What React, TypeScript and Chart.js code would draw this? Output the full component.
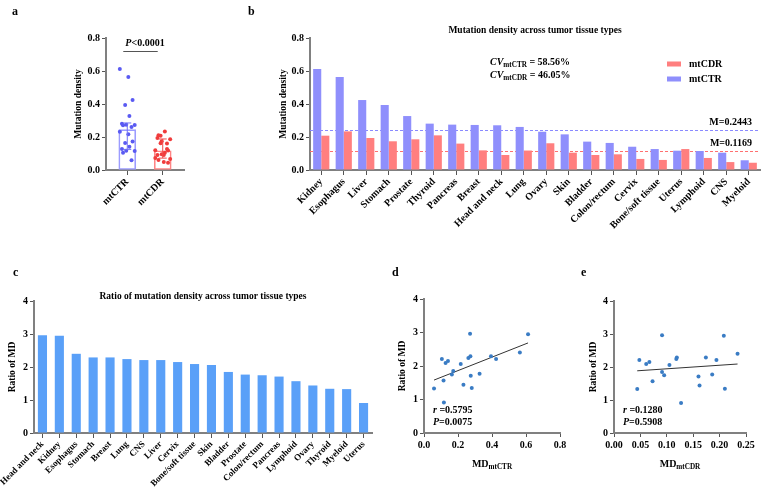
import React, { useEffect, useRef } from 'react';
import { Chart, registerables } from 'chart.js';

Chart.register(...registerables);

// ---------- DATA ----------
const tissues = ['Kidney', 'Esophagus', 'Liver', 'Stomach', 'Prostate', 'Thyroid', 'Pancreas', 'Breast', 'Head and neck', 'Lung', 'Ovary', 'Skin', 'Bladder', 'Colon/rectum', 'Cervix', 'Bone/soft tissue', 'Uterus', 'Lymphoid', 'CNS', 'Myeloid'];
const mtCTR = [0.612, 0.564, 0.424, 0.394, 0.327, 0.281, 0.275, 0.273, 0.271, 0.261, 0.232, 0.216, 0.172, 0.164, 0.141, 0.127, 0.117, 0.115, 0.105, 0.059];
const mtCDR = [0.208, 0.234, 0.194, 0.174, 0.186, 0.210, 0.160, 0.119, 0.091, 0.118, 0.162, 0.105, 0.091, 0.095, 0.067, 0.061, 0.127, 0.073, 0.048, 0.044];

const groupLabels = ['mtCTR', 'mtCDR'];
const groupMedians = [0.2443, 0.1169];
const groupQ1 = [0.125, 0.072];
const groupQ3 = [0.285, 0.188];
const medianLabels = ['M=0.2443', 'M=0.1169'];
const cvValues = ['58.56%', '46.05%'];
const pTextA = '<0.0001';

const ratioTissues = ['Head and neck', 'Kidney', 'Esophagus', 'Stomach', 'Breast', 'Lung', 'CNS', 'Liver', 'Cervix', 'Bone/soft tissue', 'Skin', 'Bladder', 'Prostate', 'Colon/rectum', 'Pancreas', 'Lymphoid', 'Ovary', 'Thyroid', 'Myeloid', 'Uterus'];
const ratioValues = [2.96, 2.95, 2.40, 2.29, 2.29, 2.24, 2.21, 2.21, 2.15, 2.09, 2.06, 1.85, 1.77, 1.75, 1.71, 1.57, 1.44, 1.34, 1.33, 0.91];

const statsD = { r: '0.5795', p: '0.0075' };
const statsE = { r: '0.1280', p: '0.5908' };

// ---------- STYLE ----------
const FONT = "'Liberation Serif', 'Times New Roman', serif";
const AXIS = '#808080';
const TICKC = '#555555';
const C_CTR = '#8f8ffc';
const C_CDR = '#ff7f7f';
const C_RATIO = '#5aa0f8';
const C_PT = '#3a7cc4';

type Part = { t: string; i?: boolean; sub?: boolean };
function rich(ctx: CanvasRenderingContext2D, parts: Part[], x: number, y: number, size: number, align: 'left' | 'center' | 'right') {
  ctx.save();
  ctx.textBaseline = 'middle';
  ctx.fillStyle = '#000';
  const f = (p: Part) => `${p.i ? 'italic ' : ''}bold ${p.sub ? size * 0.72 : size}px ${FONT}`;
  let total = 0;
  for (const p of parts) { ctx.font = f(p); total += ctx.measureText(p.t).width; }
  let cx = align === 'left' ? x : align === 'center' ? x - total / 2 : x - total;
  ctx.textAlign = 'left';
  for (const p of parts) {
    ctx.font = f(p);
    ctx.fillText(p.t, cx, p.sub ? y + size * 0.32 : y);
    cx += ctx.measureText(p.t).width;
  }
  ctx.restore();
}

const tickFont = { family: FONT, weight: 'bold' as const, size: 10 };

function yAxis(width: number, min: number, max: number, step: number, dec: number, title: string, titleOffset: number) {
  return {
    type: 'linear',
    position: 'left',
    min, max,
    border: { color: AXIS, width: 2 },
    grid: { drawOnChartArea: false, drawTicks: true, tickLength: 4, color: TICKC, lineWidth: 1 },
    ticks: { stepSize: step, color: '#000', font: tickFont, padding: 2, callback: (v: any) => Number(v).toFixed(dec) },
    title: { display: true, text: title, color: '#000', font: { family: FONT, weight: 'bold', size: 9.5 }, padding: { top: titleOffset - 5.7, bottom: 0 } },
    afterFit: (s: any) => { s.width = width; s.paddingTop = 0; s.paddingBottom = 0; },
  };
}

function xFit(height: number) {
  return (s: any) => { s.height = height; s.paddingLeft = 0; s.paddingRight = 0; };
}

function Panel({ left, top, width, height, make }: { left: number; top: number; width: number; height: number; make: () => any }) {
  const ref = useRef<HTMLCanvasElement>(null);
  useEffect(() => {
    const chart = new Chart(ref.current as HTMLCanvasElement, make());
    return () => chart.destroy();
  }, []);
  return <canvas ref={ref} width={width} height={height} style={{ position: 'absolute', left, top, width, height }} />;
}

const jitter = (i: number) => (((i * 7) % 5) - 2) * 0.09 + ((i % 2) ? 0.03 : -0.03);

// ---------- PANEL A ----------
function makeA() {
  return {
    type: 'bar',
    data: {
      datasets: [
        {
          type: 'scatter', data: mtCTR.map((v, i) => ({ x: 0 + jitter(i), y: v })),
          backgroundColor: '#5a5af2', borderWidth: 0, pointRadius: 2, order: 1,
        },
        {
          type: 'scatter', data: mtCDR.map((v, i) => ({ x: 1 + jitter(i + 3), y: v })),
          backgroundColor: '#f03c3c', borderWidth: 0, pointRadius: 2, order: 1,
        },
        {
          type: 'bar', data: groupMedians.map((m, i) => ({ x: i, y: m })),
          backgroundColor: 'rgba(255,255,255,0)', borderColor: ['#9c9cff', '#ff8585'], borderWidth: 1,
          borderSkipped: false, barThickness: 17, order: 2,
        },
      ],
    },
    options: {
      responsive: false, animation: false,
      layout: { padding: { left: 0, top: 38, right: 16, bottom: 0 } },
      plugins: { legend: { display: false }, tooltip: { enabled: false } },
      scales: {
        x: {
          type: 'linear', min: -0.6, max: 1.6, offset: false,
          border: { color: AXIS, width: 2 },
          grid: { offset: false, drawOnChartArea: false, drawTicks: true, tickLength: 5, color: TICKC, lineWidth: 1 },
          afterBuildTicks: (s: any) => { s.ticks = groupLabels.map((_, i) => ({ value: i })); },
          ticks: { color: '#000', font: tickFont, padding: 1, minRotation: 45, maxRotation: 45, callback: (_v: any, i: number) => groupLabels[i] },
          afterFit: xFit(70),
        },
        y: yAxis(106, 0, 0.8, 0.2, 1, 'Mutation density', 79),
      },
    },
    plugins: [{
      id: 'annA',
      afterDatasetsDraw(chart: any) {
        const ctx = chart.ctx; const xs = chart.scales.x; const ys = chart.scales.y;
        const cols = ['#7070f5', '#f24a4a'];
        groupLabels.forEach((_, i) => {
          const x = xs.getPixelForValue(i);
          const y1 = ys.getPixelForValue(groupQ1[i]); const y3 = ys.getPixelForValue(groupQ3[i]);
          ctx.save(); ctx.strokeStyle = cols[i]; ctx.lineWidth = 1;
          ctx.beginPath(); ctx.moveTo(x, y1); ctx.lineTo(x, y3);
          ctx.moveTo(x - 4, y1); ctx.lineTo(x + 4, y1); ctx.moveTo(x - 4, y3); ctx.lineTo(x + 4, y3);
          ctx.stroke(); ctx.restore();
        });
      },
      afterDraw(chart: any) {
        const ctx = chart.ctx; const xs = chart.scales.x;
        const x0 = xs.getPixelForValue(0); const x1 = xs.getPixelForValue(1);
        rich(ctx, [{ t: 'a' }], 12, 12, 12, 'left');
        rich(ctx, [{ t: 'P', i: true }, { t: pTextA }], (x0 + x1) / 2, 43, 10, 'center');
        ctx.save(); ctx.strokeStyle = '#555'; ctx.lineWidth = 1;
        ctx.beginPath(); ctx.moveTo(x0 - 4, 51.5); ctx.lineTo(x1 - 5, 51.5); ctx.stroke(); ctx.restore();
      },
    }],
  };
}

// ---------- PANEL B ----------
function makeB() {
  return {
    type: 'bar',
    data: {
      labels: tissues,
      datasets: [
        { label: 'mtCTR', data: mtCTR, backgroundColor: C_CTR, categoryPercentage: 0.72, barPercentage: 1 },
        { label: 'mtCDR', data: mtCDR, backgroundColor: C_CDR, categoryPercentage: 0.72, barPercentage: 1 },
      ],
    },
    options: {
      responsive: false, animation: false,
      layout: { padding: { left: 0, top: 38, right: 1, bottom: 0 } },
      plugins: { legend: { display: false }, tooltip: { enabled: false } },
      scales: {
        x: {
          type: 'category', offset: true,
          border: { color: AXIS, width: 2 },
          grid: { offset: false, drawOnChartArea: false, drawTicks: true, tickLength: 5, color: TICKC, lineWidth: 1 },
          ticks: { color: '#000', font: tickFont, padding: 1, minRotation: 45, maxRotation: 45, autoSkip: false },
          afterFit: xFit(80),
        },
        y: yAxis(110, 0, 0.8, 0.2, 1, 'Mutation density', 84),
      },
    },
    plugins: [{
      id: 'annB',
      beforeDatasetsDraw(chart: any) {
        const ctx = chart.ctx; const ys = chart.scales.y; const a = chart.chartArea;
        const cols = ['#8a8aff', '#ff7070'];
        groupMedians.forEach((m, i) => {
          const y = Math.round(ys.getPixelForValue(m)) + 0.5;
          ctx.save(); ctx.strokeStyle = cols[i]; ctx.lineWidth = 1; ctx.setLineDash([3, 2]);
          ctx.beginPath(); ctx.moveTo(a.left, y); ctx.lineTo(a.right, y); ctx.stroke(); ctx.restore();
        });
      },
      afterDraw(chart: any) {
        const ctx = chart.ctx; const ys = chart.scales.y; const a = chart.chartArea;
        rich(ctx, [{ t: 'b' }], 48, 12, 12, 'left');
        rich(ctx, [{ t: 'Mutation density across tumor tissue types' }], (a.left + a.right) / 2, 31, 9.5, 'center');
        rich(ctx, [{ t: 'CV', i: true }, { t: 'mtCTR', sub: true }, { t: ' = ' + cvValues[0] }], a.left + 180, 62, 10, 'left');
        rich(ctx, [{ t: 'CV', i: true }, { t: 'mtCDR', sub: true }, { t: ' = ' + cvValues[1] }], a.left + 180, 75, 10, 'left');
        groupMedians.forEach((m, i) => {
          rich(ctx, [{ t: medianLabels[i] }], a.right - 8, ys.getPixelForValue(m) - 7, 10, 'right');
        });
        // legend (mtCDR first, then mtCTR)
        const ds = chart.data.datasets;
        [1, 0].forEach((di, k) => {
          const y = 64 + k * 15;
          ctx.save(); ctx.fillStyle = ds[di].backgroundColor; ctx.fillRect(a.right - 93, y - 2.5, 14, 5); ctx.restore();
          rich(ctx, [{ t: ds[di].label }], a.right - 71, y, 10, 'left');
        });
      },
    }],
  };
}

// ---------- PANEL C ----------
function makeC() {
  return {
    type: 'bar',
    data: {
      labels: ratioTissues,
      datasets: [{ label: 'Ratio of MD', data: ratioValues, backgroundColor: C_RATIO, categoryPercentage: 0.54, barPercentage: 1 }],
    },
    options: {
      responsive: false, animation: false,
      layout: { padding: { left: 0, top: 51, right: 8, bottom: 0 } },
      plugins: { legend: { display: false }, tooltip: { enabled: false } },
      scales: {
        x: {
          type: 'category', offset: true,
          border: { color: AXIS, width: 2 },
          grid: { offset: false, drawOnChartArea: false, drawTicks: true, tickLength: 5, color: TICKC, lineWidth: 1 },
          ticks: { color: '#000', font: { ...tickFont, size: 9 }, padding: 1, minRotation: 45, maxRotation: 45, autoSkip: false },
          afterFit: xFit(57),
        },
        y: yAxis(34, 0, 4, 1, 0, 'Ratio of MD', 13),
      },
    },
    plugins: [{
      id: 'annC',
      afterDraw(chart: any) {
        const ctx = chart.ctx; const a = chart.chartArea;
        rich(ctx, [{ t: 'c' }], 13, 23, 12, 'left');
        rich(ctx, [{ t: 'Ratio of mutation density across tumor tissue types' }], (a.left + a.right) / 2, 47, 9.5, 'center');
      },
    }],
  };
}

// ---------- PANELS D / E ----------
function regression(xs: number[], ys: number[]) {
  const n = xs.length;
  const mx = xs.reduce((s, v) => s + v, 0) / n; const my = ys.reduce((s, v) => s + v, 0) / n;
  let sxy = 0, sxx = 0;
  for (let i = 0; i < n; i++) { sxy += (xs[i] - mx) * (ys[i] - my); sxx += (xs[i] - mx) ** 2; }
  const b = sxy / sxx; const a0 = my - b * mx;
  const lo = Math.min(...xs); const hi = Math.max(...xs);
  return [{ x: lo, y: a0 + b * lo }, { x: hi, y: a0 + b * hi }];
}

function makeScatter(letter: string, xvals: number[], xmax: number, xstep: number, xdec: number, yWidth: number, titleOffset: number, top: number, sub: string, stats: { r: string; p: string }, letterX: number) {
  const ratioFor = tissues.map((t) => ratioValues[ratioTissues.indexOf(t)]);
  const pts = xvals.map((v, i) => ({ x: v, y: ratioFor[i] }));
  return {
    type: 'scatter',
    data: {
      datasets: [
        { type: 'scatter', data: pts, backgroundColor: C_PT, borderWidth: 0, pointRadius: 2 },
        { type: 'line', data: regression(xvals, ratioFor), borderColor: '#333', borderWidth: 1, pointRadius: 0, fill: false },
      ],
    },
    options: {
      responsive: false, animation: false,
      layout: { padding: { left: 0, top, right: 15, bottom: 0 } },
      plugins: { legend: { display: false }, tooltip: { enabled: false } },
      scales: {
        x: {
          type: 'linear', min: 0, max: xmax,
          border: { color: AXIS, width: 2 },
          grid: { drawOnChartArea: false, drawTicks: true, tickLength: 4, color: TICKC, lineWidth: 1 },
          ticks: { stepSize: xstep, color: '#000', font: tickFont, padding: 2, maxRotation: 0, minRotation: 0, callback: (v: any) => Number(v).toFixed(xdec) },
          afterFit: xFit(57),
        },
        y: yAxis(yWidth, 0, 4, 1, 0, 'Ratio of MD', titleOffset),
      },
    },
    plugins: [{
      id: 'ann' + letter,
      afterDraw(chart: any) {
        const ctx = chart.ctx; const a = chart.chartArea;
        rich(ctx, [{ t: letter }], letterX, 23, 12, 'left');
        rich(ctx, [{ t: 'MD' }, { t: sub, sub: true }], (a.left + a.right) / 2, 214, 10, 'center');
        rich(ctx, [{ t: 'r', i: true }, { t: ' =' + stats.r }], a.left + 9, a.bottom - 23, 10, 'left');
        rich(ctx, [{ t: 'P', i: true }, { t: '=' + stats.p }], a.left + 9, a.bottom - 11, 10, 'left');
      },
    }],
  };
}

export default function App() {
  return (
    <div style={{ position: 'absolute', left: 0, top: 0, width: 761, height: 490, background: '#fff', overflow: 'hidden' }}>
      <Panel left={0} top={0} width={200} height={240} make={makeA} />
      <Panel left={200} top={0} width={561} height={250} make={makeB} />
      <Panel left={0} top={250} width={380} height={240} make={makeC} />
      <Panel left={380} top={250} width={195} height={240}
        make={() => makeScatter('d', mtCTR, 0.8, 0.2, 1, 44, 23, 49, 'mtCTR', statsD, 12)} />
      <Panel left={575} top={250} width={186} height={240}
        make={() => makeScatter('e', mtCDR, 0.25, 0.05, 2, 39, 19, 51, 'mtCDR', statsE, 6)} />
    </div>
  );
}
